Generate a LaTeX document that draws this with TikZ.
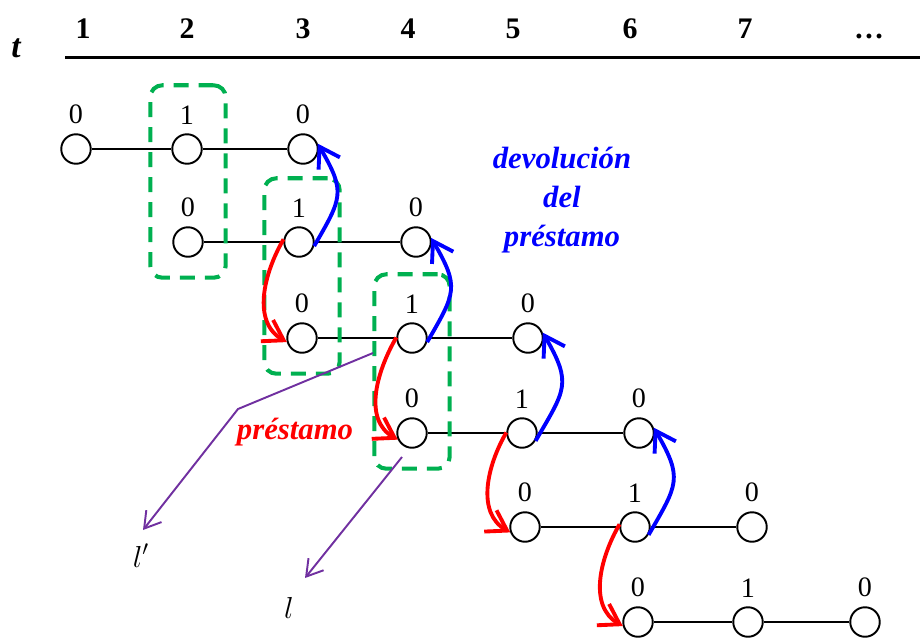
\documentclass[tikz,border=0pt]{standalone}
\usepackage{fontspec}
\setmainfont{Liberation Serif}
\usepackage{xcolor}
\usepackage{tikz}
\usetikzlibrary{positioning}
\usetikzlibrary{fit}
\usetikzlibrary{arrows.meta}
\definecolor{boxgreen}{RGB}{0,176,80}
\definecolor{linkpurple}{RGB}{112,48,160}

\begin{document}
\begin{tikzpicture}[x=0.02cm, y=0.02cm,
  period/.style={font=\fontsize{17}{19}\selectfont\bfseries, anchor=base},
  slot/.style={circle, draw, fill=white, line width=1.1pt, minimum size=0.59cm, inner sep=0pt},
  val/.style={font=\fontsize{16}{18}\selectfont, inner sep=0pt},
  rowline/.style={line width=1.1pt},
  loanbox/.style={draw=boxgreen, line width=2.3pt, rounded corners=0.24cm,
    dash pattern=on 0.3cm off 0.2cm, inner xsep=0.44cm, inner ysep=0.4cm},
  payback/.style={draw=blue, line width=2.2pt, -{Straight Barb[length=11pt,width=14pt]}},
  borrow/.style={draw=red, line width=2.2pt, -{Straight Barb[length=11pt,width=14pt]}},
  link/.style={draw=linkpurple, line width=1.1pt, -{Straight Barb[length=9pt,width=11pt]}},
  note/.style={font=\fontsize{17.5}{22}\selectfont\bfseries\itshape, align=center},
  leg/.style={font=\fontsize{17}{19}\selectfont, anchor=base}]
  \useasboundingbox (0,0) rectangle (920,-637);

  \node[font=\fontsize{19}{21}\selectfont\bfseries\itshape, anchor=base] (tlab) at (16,-57) {t};
  \foreach \k/\x in {1/83,2/187,3/303,4/408,5/513,6/630,7/745}
    \node[period] (h\k) at (\x,-38) {\k};
  \node[period] (hdots) at (869,-38) {…};
  \coordinate (axl) at (65,-57);
  \coordinate (axr) at (920,-57);
  \draw[line width=1.7pt] (axl) -- (axr);

  \foreach \id/\x/\y/\v in {11/76/149/0, 12/187/149/1, 13/303/149/0,
      21/188/242/0, 22/299/242/1, 23/416/242/0,
      31/302/338/0, 32/412/338/1, 33/528/338/0,
      41/412/433/0, 42/522/433/1, 43/639/433/0,
      51/525/527/0, 52/635/527/1, 53/752/527/0,
      61/638/622/0, 62/748/622/1, 63/865/622/0} {
    \node[slot] (n\id) at (\x,-\y) {};
    \node[val, above=5pt of n\id] (v\id) {\v};
  }
  \foreach \r/\w in {1/1.1,2/1.1,3/1.1,4/1.1,5/1.6,6/1.6}
    \draw[rowline, line width=\w pt] (n\r1) -- (n\r2) -- (n\r3);

  \node[loanbox, fit=(v12)(n21)] (box1) {};
  \node[loanbox, fit=(v22)(n31)] (box2) {};
  \node[loanbox, fit=(v32)(n41)] (box3) {};

  \draw[payback] (n22.-15) to[out=60, in=-60, looseness=1.4] (n13.20);
  \draw[payback] (n32.-15) to[out=60, in=-60, looseness=1.4] (n23.15);
  \draw[payback] (n42.-30) to[out=60, in=-60, looseness=1.4] (n33.20);
  \draw[payback] (n52.-30) to[out=60, in=-60, looseness=1.4] (n43.20);

  \draw[borrow] (n22.170) to[out=240, in=150] (n31.195);
  \draw[borrow] (n32.178) to[out=240, in=150] (n41.205);
  \draw[borrow] (n42.178) to[out=240, in=150] (n51.200);
  \draw[borrow] (n52.170) to[out=240, in=150] (n61.195);

  \coordinate (p1a) at (373,-353);
  \coordinate (p1b) at (238,-409);
  \coordinate (p1c) at (143,-530);
  \coordinate (p2a) at (402,-457);
  \coordinate (p2b) at (305,-578);
  \draw[link] (p1a) -- (p1b) -- (p1c);
  \draw[link] (p2a) -- (p2b);
  \node[leg] (lprime) at (141,-567) {$l'$};
  \node[leg] (lplain) at (289,-618) {$l$};

  \node[note, text=blue] (payback) at (562,-200) {devolución\\del\\préstamo};
  \node[note, text=red] (loan) at (295,-432) {préstamo};
\end{tikzpicture}
\end{document}
